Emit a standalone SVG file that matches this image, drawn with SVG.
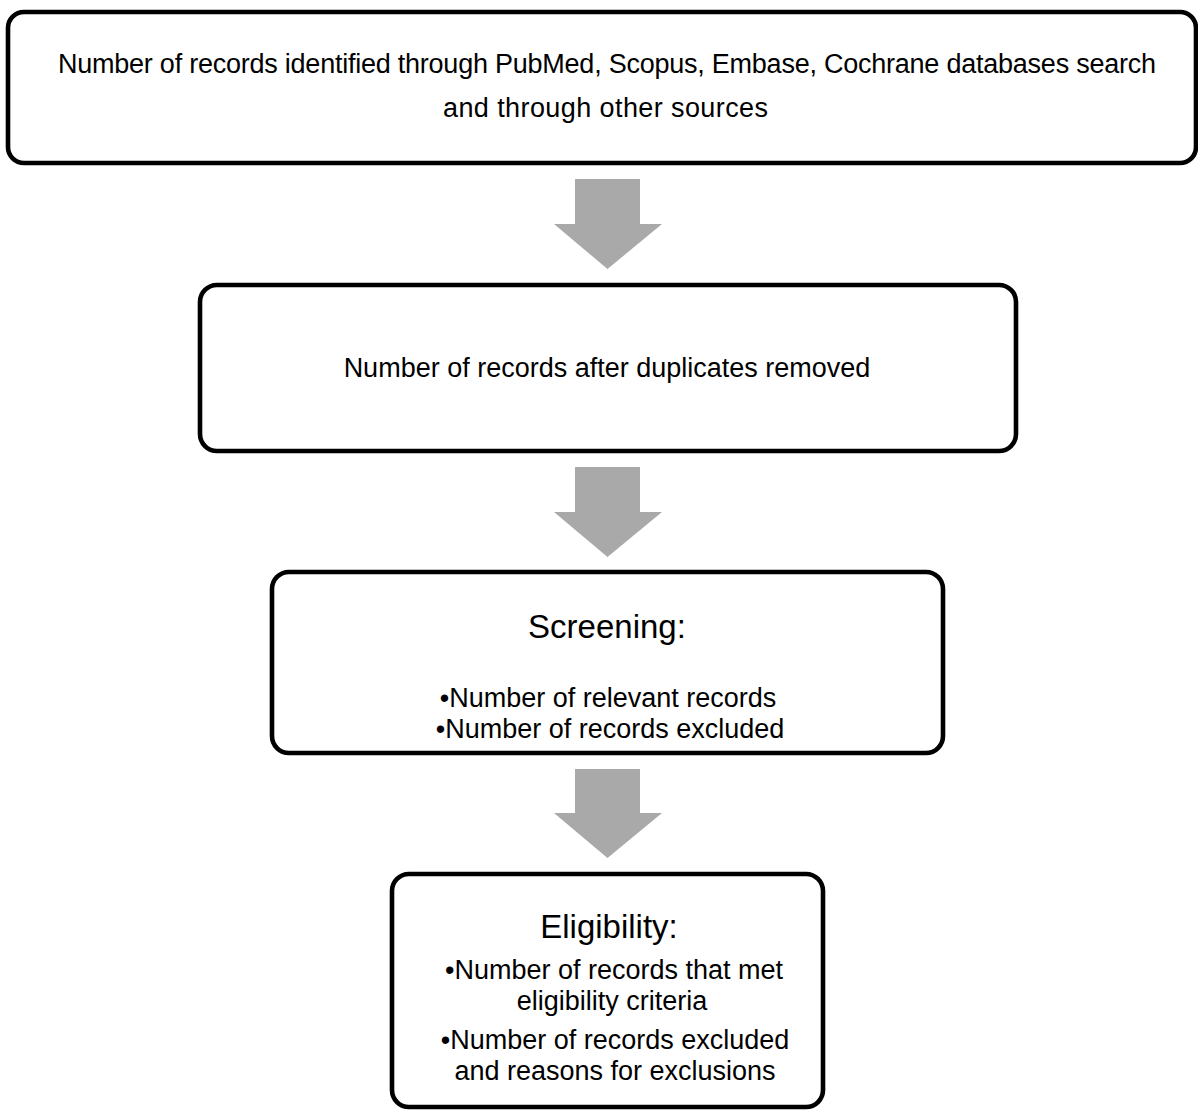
<svg xmlns="http://www.w3.org/2000/svg" width="1198" height="1113" viewBox="0 0 1198 1113">
  <style>
    .box { fill: #ffffff; stroke: #000000; stroke-width: 4.6; }
    .arrow { fill: #a9a9a9; stroke: none; }
    .t { font-family: "Liberation Sans", Arial, sans-serif; font-size: 27px; fill: #000000; text-anchor: middle; }
    .h { font-family: "Liberation Sans", Arial, sans-serif; font-size: 33px; fill: #000000; text-anchor: middle; }
  </style>
  <rect width="1198" height="1113" fill="#ffffff"/>
  <g id="connectors">
    <polygon class="arrow" points="575,179 640,179 640,224 662,224 607.5,269 554,224 575,224"/>
    <polygon class="arrow" points="575,467 640,467 640,512 662,512 607.5,557 554,512 575,512"/>
    <polygon class="arrow" points="575,769 640,769 640,813 662,813 607.5,858 554,813 575,813"/>
  </g>
  <g id="node-identified">
    <rect class="box" x="8" y="12" width="1188" height="151" rx="16" ry="16"/>
    <text class="t" x="607" y="73" textLength="1098" lengthAdjust="spacing">Number of records identified through PubMed, Scopus, Embase, Cochrane databases search</text>
    <text class="t" x="605.5" y="117" textLength="325" lengthAdjust="spacing">and through other sources</text>
  </g>
  <g id="node-duplicates">
    <rect class="box" x="200" y="285" width="816" height="166" rx="17" ry="17"/>
    <text class="t" x="607" y="377">Number of records after duplicates removed</text>
  </g>
  <g id="node-screening">
    <rect class="box" x="272" y="572" width="671" height="181" rx="17" ry="17"/>
    <text class="h" x="607" y="638">Screening:</text>
    <text class="t" x="608" y="707">•Number of relevant records</text>
    <text class="t" x="610" y="738">•Number of records excluded</text>
  </g>
  <g id="node-eligibility">
    <rect class="box" x="392" y="874" width="431" height="233" rx="17" ry="17"/>
    <text class="h" x="609" y="938">Eligibility:</text>
    <text class="t" x="614" y="979">•Number of records that met</text>
    <text class="t" x="612" y="1010">eligibility criteria</text>
    <text class="t" x="615" y="1049">•Number of records excluded</text>
    <text class="t" x="615" y="1080">and reasons for exclusions</text>
  </g>
</svg>
